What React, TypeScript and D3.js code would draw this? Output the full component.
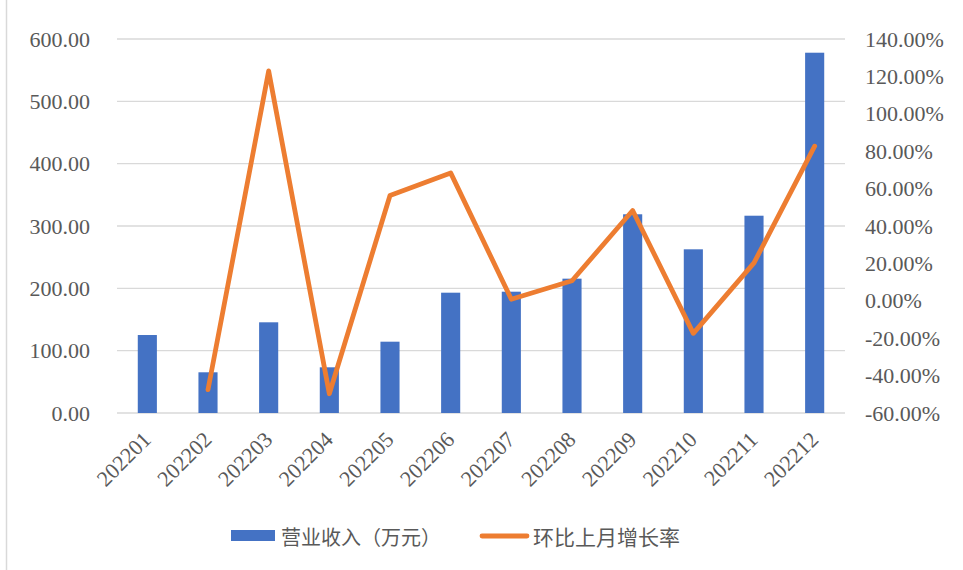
import React from 'react';
import * as d3 from 'd3';

// chart data
const months = ['202201', '202202', '202203', '202204', '202205', '202206', '202207', '202208', '202209', '202210', '202211', '202212'];
const revenue = [125.1, 65.3, 145.5, 73.3, 114.4, 193.0, 194.6, 215.5, 318.8, 262.6, 316.5, 578.0];
const growth: (number | null)[] = [null, -47.5, 122.9, -49.7, 56.3, 68.4, 0.8, 10.7, 48.3, -17.4, 20.3, 82.7];
const leftTicks = [0, 100, 200, 300, 400, 500, 600];
const rightTicks = [-60, -40, -20, 0, 20, 40, 60, 80, 100, 120, 140];
const seriesNames = ['营业收入（万元）', '环比上月增长率'];

// constants
const width = 963;
const height = 570;
const plot = { left: 117, right: 845, top: 39, bottom: 413 };
const blue = '#4472C4';
const orange = '#ED7D31';
const grid = '#d9d9d9';
const textColor = '#595959';
const numFont = '"Liberation Serif", "Times New Roman", serif';
const cjkFont = '"Noto Sans CJK SC", sans-serif';

const App = () => {
  const x = d3.scaleBand().domain(months).range([plot.left, plot.right]);
  const yLeft = d3.scaleLinear().domain([0, 600]).range([plot.bottom, plot.top]);
  const yRight = d3.scaleLinear().domain([-60, 140]).range([plot.bottom, plot.top]);
  const barW = x.bandwidth() * 0.315;
  const cx = (m: string) => (x(m) as number) + x.bandwidth() / 2;

  const line = d3.line<number | null>()
    .defined(d => d !== null)
    .x((d, i) => cx(months[i]))
    .y(d => yRight(d as number));

  return (
    <svg width={width} height={height} style={{ position: 'absolute', left: 0, top: 0, background: '#fff' }}>
      <line x1={6.5} x2={6.5} y1={0} y2={height} stroke={grid} strokeWidth={1.5} />

      {/* gridlines */}
      {leftTicks.map(t => (
        <line key={t} x1={plot.left} x2={plot.right} y1={yLeft(t)} y2={yLeft(t)}
          stroke={grid} strokeWidth={t === 0 ? 1.6 : 1.3} />
      ))}

      {/* left axis labels */}
      {leftTicks.map(t => (
        <text key={t} x={90} y={yLeft(t)} textAnchor="end" dominantBaseline="central"
          fontFamily={numFont} fontSize={22} fill={textColor}>{t.toFixed(2)}</text>
      ))}

      {/* right axis labels */}
      {rightTicks.map(t => (
        <text key={t} x={865} y={yRight(t)} textAnchor="start" dominantBaseline="central"
          fontFamily={numFont} fontSize={22} fill={textColor}>{t.toFixed(2)}%</text>
      ))}

      {/* bars */}
      {revenue.map((d, i) => (
        <rect key={months[i]} x={cx(months[i]) - barW / 2} y={yLeft(d)} width={barW}
          height={yLeft(0) - yLeft(d)} fill={blue} />
      ))}

      {/* growth line */}
      <path d={line(growth) || ''} fill="none" stroke={orange} strokeWidth={4.8}
        strokeLinejoin="round" strokeLinecap="round" />

      {/* x labels */}
      {months.map(m => (
        <text key={m} transform={`translate(${cx(m) + 5},${441}) rotate(-45)`} textAnchor="end"
          fontFamily={numFont} fontSize={22} fill={textColor}>{m}</text>
      ))}

      {/* legend */}
      <rect x={231} y={530} width={44} height={11} fill={blue} />
      <text x={281} y={536} dominantBaseline="central" fontFamily={cjkFont} fontSize={20} fill={textColor}>{seriesNames[0]}</text>
      <line x1={482} x2={527} y1={536} y2={536} stroke={orange} strokeWidth={4.8} strokeLinecap="round" />
      <text x={533} y={536} dominantBaseline="central" fontFamily={cjkFont} fontSize={21} fill={textColor}>{seriesNames[1]}</text>
    </svg>
  );
};

export default App;
